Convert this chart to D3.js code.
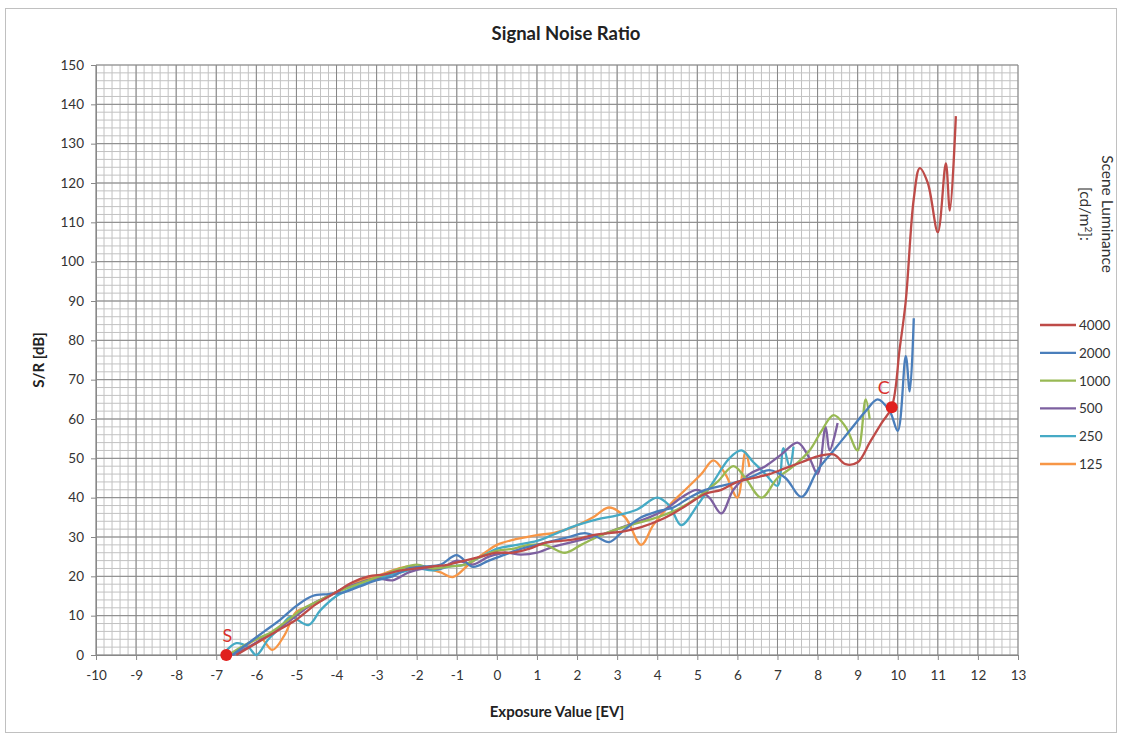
<!DOCTYPE html>
<html><head><meta charset="utf-8">
<script src="https://cdn.jsdelivr.net/npm/d3@7"></script>
<style>body{margin:0;background:#fff;font-family:Lato,"Open Sans",sans-serif;}</style>
</head><body><svg id="c" width="1121" height="735"></svg>
<script>
const seriesNames = ["4000","2000","1000","500","250","125"];
const seriesColors = ["#BE4B48","#4A7EBB","#98B954","#7D60A0","#46AAC5","#F79646"];

const x4000 = [-6.5,-6.0,-5.5,-5.0,-4.5,-4.0,-3.6,-3.2,-2.8,-2.4,-2.0,-1.6,-1.2,-0.8,-0.4,0.0,0.4,0.8,1.2,1.6,2.0,2.4,2.8,3.2,3.6,4.0,4.4,4.8,5.2,5.6,6.0,6.4,6.8,7.2,7.6,8.0,8.4,8.7,9.0,9.3,9.6,9.85,10.05,10.2,10.4,10.55,10.75,11.0,11.2,11.3,11.45];
const y4000 = [0,3,6,9,13,16,18.5,20,20.5,21.5,22,22.5,23,24,25,26,26,27,28.5,29,29.5,30.5,31,31.5,32.5,34,36,38.5,41,42,44,45,46,47.5,49,50.5,51,48.5,49,54,59,63,78,90,116,123.8,120,107.5,125,113,137];

const x2000 = [-6.6,-6.2,-5.8,-5.4,-5.0,-4.6,-4.2,-3.8,-3.4,-3.0,-2.6,-2.2,-1.8,-1.4,-1.0,-0.6,-0.2,0.2,0.6,1.0,1.4,1.8,2.2,2.5,2.8,3.2,3.6,4.0,4.4,4.8,5.2,5.6,6.0,6.4,6.8,7.2,7.6,8.0,8.4,8.8,9.2,9.5,9.8,10.0,10.2,10.3,10.4];
const y2000 = [0,3,6,9,12.5,15,15.5,16,17.5,19,20,22,22.5,23,25.4,22.4,24,25.5,27,28,29,30,31,30,28.7,32,35,36.5,37.5,40,42,43,44,45.5,47,45,40.2,47,52,57,62,65,62,57,76,67,85.6];

const x1000 = [-6.7,-6.3,-6.0,-5.6,-5.2,-4.8,-4.4,-4.0,-3.6,-3.2,-2.8,-2.4,-2.0,-1.6,-1.2,-0.8,-0.4,0.0,0.4,0.8,1.2,1.7,2.1,2.5,3.0,3.5,4.0,4.5,5.0,5.5,5.9,6.2,6.6,7.0,7.4,7.8,8.1,8.4,8.7,9.0,9.2,9.3];
const y1000 = [0,2.5,4,6,9,12,14,16,17.5,19,20.5,22,23,22,22.5,23,25,26.5,27,28,28,26,28,30,32,33.5,35,37,40,44,48,45,40,45,48,52,57,61,58,52,65,60];

const x500 = [-6.6,-6.2,-5.8,-5.4,-5.0,-4.6,-4.2,-3.8,-3.4,-3.0,-2.6,-2.2,-1.8,-1.4,-1.0,-0.6,-0.2,0.2,0.6,1.0,1.4,1.8,2.2,2.6,3.0,3.4,3.8,4.2,4.6,5.0,5.3,5.6,5.9,6.3,6.7,7.1,7.5,7.8,8.0,8.2,8.3,8.5];
const y500 = [0,2,4.5,7,10,13,15,17,18.5,19.5,19,21,22,22,24,23,25,26,25.5,26,27.5,28.5,29.5,30.5,32,33.5,35,37,40,42,40,36,42,46,48,51,54,50,46,58,52,59];

const x250 = [-6.8,-6.5,-6.2,-6.0,-5.7,-5.4,-5.15,-4.7,-4.4,-4.0,-3.6,-3.2,-2.8,-2.4,-2.0,-1.6,-1.2,-0.8,-0.4,0.0,0.5,1.0,1.5,2.0,2.5,3.0,3.5,4.0,4.3,4.6,5.0,5.4,5.8,6.1,6.4,6.7,7.0,7.15,7.3,7.4];
const y250 = [0.5,3,2,0,4,7,9.7,7.6,11.4,15,17,18.5,20,21,22,21.5,22.5,23,25,27,28,29,31,33,34.5,35.5,37,40,38,33,38,44,50,52,49,46,43,52.6,48,53];

const x125 = [-6.65,-6.3,-5.9,-5.6,-5.3,-5.0,-4.6,-4.2,-3.8,-3.4,-3.0,-2.6,-2.2,-1.8,-1.4,-1.1,-0.7,-0.3,0.0,0.5,1.0,1.4,1.9,2.4,2.8,3.2,3.6,3.9,4.3,4.7,5.1,5.4,5.7,6.0,6.2,6.3];
const y125 = [0,2,4.3,1.3,5,11,12.5,15,17,19,20,21.5,22.5,22,21,19.8,23,26,28,29.5,30.5,31,32.5,35,37.5,35,28,33,38,42,46,49.5,46,40,51.6,47.8];

const seriesX = [x4000,x2000,x1000,x500,x250,x125];
const seriesY = [y4000,y2000,y1000,y500,y250,y125];

const xTicks = d3.range(-10, 14, 1);
const yTicks = d3.range(0, 151, 10);
const markerNames = ["S","C"];
const markerX = [-6.75, 9.85];
const markerY = [0, 63];

const FONT = "Lato,'Open Sans',sans-serif";
const svg = d3.select("#c");
const L=96, R=1018, T=65, B=655;
const x = d3.scaleLinear().domain([-10,13]).range([L,R]);
const y = d3.scaleLinear().domain([0,150]).range([B,T]);

svg.append("rect").attr("x",5.5).attr("y",8.5).attr("width",1111).attr("height",724)
  .attr("fill","#fff").attr("stroke","#c0c0c0");

// minor grid
const g = svg.append("g");
d3.range(-10, 13.001, 0.2).forEach(v=>{
  g.append("line").attr("x1",x(v)).attr("x2",x(v)).attr("y1",T).attr("y2",B)
   .attr("stroke","#c2c2c2").attr("stroke-width",1);
});
d3.range(0,150.001,2).forEach(v=>{
  g.append("line").attr("x1",L).attr("x2",R).attr("y1",y(v)).attr("y2",y(v))
   .attr("stroke","#c2c2c2").attr("stroke-width",1);
});
// major grid
xTicks.forEach(v=>{
  g.append("line").attr("x1",x(v)).attr("x2",x(v)).attr("y1",T).attr("y2",B)
   .attr("stroke","#878787").attr("stroke-width",1);
});
yTicks.forEach(v=>{
  g.append("line").attr("x1",L).attr("x2",R).attr("y1",y(v)).attr("y2",y(v))
   .attr("stroke","#878787").attr("stroke-width",1);
});

// axes
const xa = svg.append("g").attr("transform",`translate(0,${B})`)
  .call(d3.axisBottom(x).tickValues(xTicks).tickSize(5).tickPadding(10).tickFormat(d=>String(d)));
const ya = svg.append("g").attr("transform",`translate(${L},0)`)
  .call(d3.axisLeft(y).tickValues(yTicks).tickSize(5).tickPadding(7).tickFormat(d=>String(d)));
[xa,ya].forEach(a=>{
  a.selectAll("path,line").attr("stroke","#888");
  a.selectAll("text").attr("font-family",FONT).attr("font-size",13.5).attr("fill","#333");
});

// lines
const line = d3.line().curve(d3.curveCatmullRom.alpha(0.5));
seriesNames.slice().reverse().forEach((n,ri)=>{
  const i = seriesNames.length-1-ri;
  const pts = seriesX[i].map((v,k)=>[x(v), y(seriesY[i][k])]);
  svg.append("path").attr("d",line(pts)).attr("fill","none")
    .attr("stroke",seriesColors[i]).attr("stroke-width",2.3);
});

// markers
markerNames.forEach((m,i)=>{
  svg.append("circle").attr("cx",x(markerX[i])).attr("cy",y(markerY[i])).attr("r",6).attr("fill","#E0201E");
  svg.append("text").attr("x",x(markerX[i])+(i==0?1:-8)).attr("y",y(markerY[i])-13)
    .attr("text-anchor","middle").attr("font-family",FONT).attr("font-size",18)
    .attr("fill","#D9302C").text(m);
});

// titles
svg.append("text").attr("x",566).attr("y",40).attr("text-anchor","middle")
  .attr("font-family",FONT).attr("font-weight","bold").attr("font-size",18.5).attr("fill","#222")
  .text("Signal Noise Ratio");
svg.append("text").attr("x",557).attr("y",717).attr("text-anchor","middle")
  .attr("font-family",FONT).attr("font-weight","bold").attr("font-size",15).attr("fill","#222")
  .text("Exposure Value [EV]");
svg.append("text").attr("transform","translate(44,360) rotate(-90)").attr("text-anchor","middle")
  .attr("font-family",FONT).attr("font-weight","bold").attr("font-size",15).attr("fill","#222")
  .text("S/R [dB]");

// legend title
svg.append("text").attr("transform","translate(1102,214) rotate(90)").attr("text-anchor","middle")
  .attr("font-family",FONT).attr("font-size",15.5).attr("fill","#333").text("Scene Luminance");
const lt = svg.append("text").attr("transform","translate(1080,214) rotate(90)").attr("text-anchor","middle")
  .attr("font-family",FONT).attr("font-size",15.5).attr("fill","#333");
lt.append("tspan").text("[cd/m");
lt.append("tspan").attr("dy",-5).attr("font-size",10).text("2");
lt.append("tspan").attr("dy",5).text("]:");

// legend
seriesNames.forEach((n,i)=>{
  const yy = 325 + i*27.8;
  svg.append("line").attr("x1",1040).attr("x2",1076).attr("y1",yy).attr("y2",yy)
    .attr("stroke",seriesColors[i]).attr("stroke-width",2.3);
  svg.append("text").attr("x",1079).attr("y",yy+5).attr("font-family",FONT)
    .attr("font-size",13.5).attr("fill","#333").text(n);
});
</script></body></html>
